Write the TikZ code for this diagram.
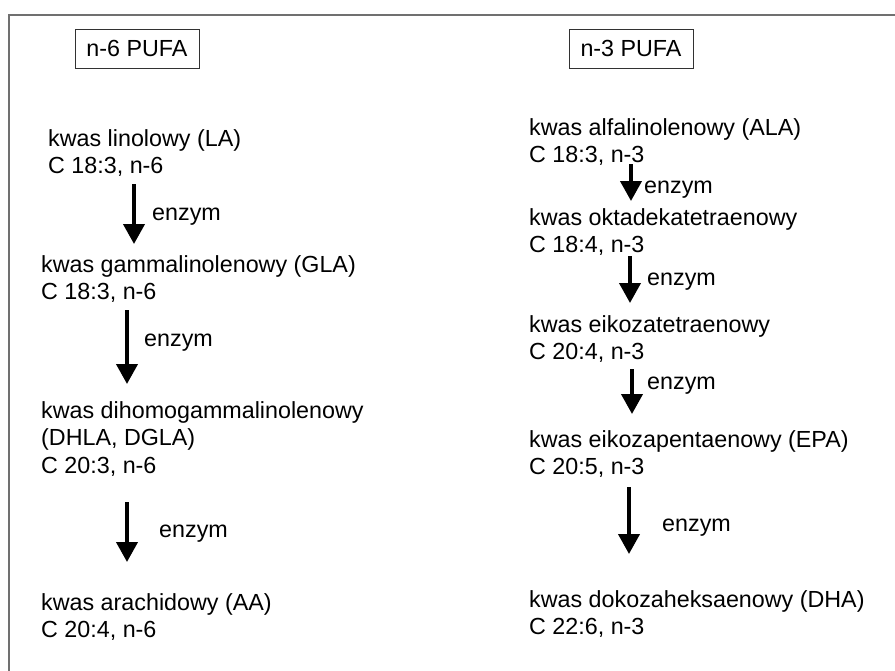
\documentclass[tikz,border=0pt]{standalone}
\usepackage{fontspec}
\setmainfont{Liberation Sans}
\usetikzlibrary{arrows.meta}
\definecolor{framegray}{RGB}{112,112,112}
\definecolor{boxgray}{RGB}{50,50,50}
\tikzset{
  frameline/.style={draw=framegray, line width=1.2pt},
  titlebox/.style={draw=boxgray, line width=0.9pt, minimum width=124pt, minimum height=39pt, inner sep=0pt, font=\fontsize{23.3}{27.5}\selectfont},
  acid/.style={anchor=base west, inner sep=0pt, font=\fontsize{23.3}{27.5}\selectfont},
  enz/.style={anchor=base west, inner sep=0pt, font=\fontsize{23.3}{27.5}\selectfont},
  flow/.style={line width=4pt, -{Triangle[width=21pt,length=20pt]}}
}
\newcommand{\twolines}[2]{\begin{tabular}[t]{@{}l@{}}#1\\#2\end{tabular}}
\newcommand{\threelines}[3]{\begin{tabular}[t]{@{}l@{}}#1\\#2\\#3\end{tabular}}
\begin{document}
\begin{tikzpicture}[x=1pt,y=-1pt]
\useasboundingbox (0,0) rectangle (895,670);
\fill[white] (0,0) rectangle (895,670);
% frame (cut at right and bottom)
\coordinate (fr1) at (896,15);
\coordinate (fr2) at (9,15);
\coordinate (fr3) at (9,671);
\draw[frameline] (fr1) -- (fr2) -- (fr3);
% titles
\node[titlebox] (n6) at (137,48.5) {n-6 PUFA};
\node[titlebox] (n3) at (631,48.5) {n-3 PUFA};
% left column
\node[acid] (la) at (48,146) {\twolines{kwas linolowy (LA)}{C 18:3, n-6}};
\node[acid] (gla) at (41,272) {\twolines{kwas gammalinolenowy (GLA)}{C 18:3, n-6}};
\node[acid] (dgla) at (41,418) {\threelines{kwas dihomogammalinolenowy}{(DHLA, DGLA)}{C 20:3, n-6}};
\node[acid] (aa) at (41,610) {\twolines{kwas arachidowy (AA)}{C 20:4, n-6}};
% right column
\node[acid] (ala) at (529,135) {\twolines{kwas alfalinolenowy (ALA)}{C 18:3, n-3}};
\node[acid] (odta) at (529,225) {\twolines{kwas oktadekatetraenowy}{C 18:4, n-3}};
\node[acid] (eta) at (529,332) {\twolines{kwas eikozatetraenowy}{C 20:4, n-3}};
\node[acid] (epa) at (529,447) {\twolines{kwas eikozapentaenowy (EPA)}{C 20:5, n-3}};
\node[acid] (dha) at (529,607) {\twolines{kwas dokozaheksaenowy (DHA)}{C 22:6, n-3}};
% arrows left
\coordinate (l1s) at (134,184); \coordinate (l1e) at (134,244);
\coordinate (l2s) at (127,310); \coordinate (l2e) at (127,384);
\coordinate (l3s) at (127,502); \coordinate (l3e) at (127,562);
\draw[flow] (l1s) -- (l1e);
\draw[flow] (l2s) -- (l2e);
\draw[flow] (l3s) -- (l3e);
\node[enz] (e1) at (152,220) {enzym};
\node[enz] (e2) at (144,346) {enzym};
\node[enz] (e3) at (159,537) {enzym};
% arrows right
\coordinate (r1s) at (631,164); \coordinate (r1e) at (631,201);
\coordinate (r2s) at (630,256); \coordinate (r2e) at (630,303);
\coordinate (r3s) at (632,369); \coordinate (r3e) at (632,414);
\coordinate (r4s) at (629,487); \coordinate (r4e) at (629,554);
\draw[flow] (r1s) -- (r1e);
\draw[flow] (r2s) -- (r2e);
\draw[flow] (r3s) -- (r3e);
\draw[flow] (r4s) -- (r4e);
\node[enz] (e4) at (644,193) {enzym};
\node[enz] (e5) at (647,285) {enzym};
\node[enz] (e6) at (647,389) {enzym};
\node[enz] (e7) at (662,531) {enzym};
\end{tikzpicture}
\end{document}
